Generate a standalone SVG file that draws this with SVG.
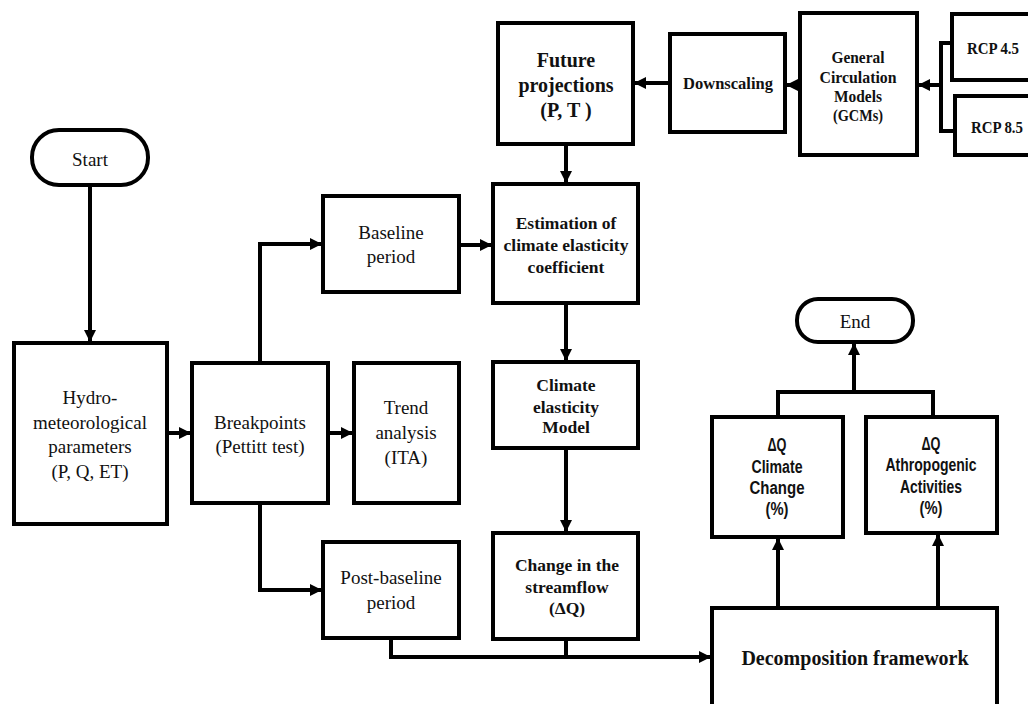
<svg xmlns="http://www.w3.org/2000/svg" width="1028" height="704" viewBox="0 0 1028 704">
<defs>
<marker id="ah" markerUnits="userSpaceOnUse" markerWidth="12" markerHeight="12" viewBox="0 0 12 12" refX="11" refY="6" orient="auto">
<path d="M0,0 L12,6 L0,12 Z" fill="#000"/>
</marker>
<style>
.b{fill:#fff;stroke:#000;stroke-width:4}
.c{fill:none;stroke:#000;stroke-width:4}
.a{marker-end:url(#ah)}
text{font-family:"Liberation Serif","DejaVu Serif",serif;fill:#111;text-anchor:middle}
.r{font-size:19px}
.bd{font-weight:bold}
.s{font-family:"Liberation Sans","DejaVu Sans",sans-serif;font-weight:bold;font-size:18px}
</style>
</defs>
<g id="connectors">
<path class="c a" d="M90,185 V341"/>
<path class="c a" d="M167,433 H190"/>
<path class="c a" d="M328,433 H352"/>
<path class="c a" d="M260,363 V244 H321"/>
<path class="c a" d="M260,503 V590 H321"/>
<path class="c a" d="M459,245 H491"/>
<path class="c a" d="M566,144 V182"/>
<path class="c a" d="M670,83 H635"/>
<path class="c a" d="M800,85 H787"/>
<path class="c" d="M952,43 H941 V131 H955"/>
<path class="c a" d="M941,85 H919"/>
<path class="c a" d="M566,303 V360"/>
<path class="c a" d="M566,448 V531"/>
<path class="c a" d="M391,638 V657 H710"/>
<path class="c" d="M566,639 V657"/>
<path class="c a" d="M778,608 V539"/>
<path class="c a" d="M938,608 V535"/>
<path class="c" d="M778,417 V392 H933 V417"/>
<path class="c a" d="M854,392 V344"/>
</g>
<g id="start"><rect class="b" x="32" y="130" width="116" height="55" rx="27"/><text class="r" x="90" y="166">Start</text></g>
<g id="hydro"><rect class="b" x="14" y="343" width="153" height="181"/>
<text class="r" x="90" y="404">Hydro-</text><text class="r" x="90" y="429">meteorological</text><text class="r" x="90" y="453">parameters</text><text class="r" x="90" y="478">(P, Q, ET)</text></g>
<g id="breakpoints"><rect class="b" x="192" y="363" width="136" height="140"/>
<text class="r" x="260" y="429">Breakpoints</text><text class="r" x="260" y="453">(Pettitt test)</text></g>
<g id="trend"><rect class="b" x="354" y="363" width="105" height="140"/>
<text class="r" x="406" y="414">Trend</text><text class="r" x="406" y="439">analysis</text><text class="r" x="406" y="464">(ITA)</text></g>
<g id="baseline"><rect class="b" x="323" y="196" width="136" height="96"/>
<text class="r" x="391" y="239">Baseline</text><text class="r" x="391" y="263">period</text></g>
<g id="postbaseline"><rect class="b" x="323" y="542" width="136" height="96"/>
<text class="r" x="391" y="584">Post-baseline</text><text class="r" x="391" y="609">period</text></g>
<g id="future"><rect class="b" x="498" y="23" width="135" height="121"/>
<text class="bd" font-size="20" x="566" y="67">Future</text><text class="bd" font-size="20" x="566" y="92">projections</text><text class="bd" font-size="20" x="566" y="117">(P, T )</text></g>
<g id="downscaling"><rect class="b" x="670" y="34" width="115" height="98"/>
<text class="bd" font-size="16.5" x="728" y="89">Downscaling</text></g>
<g id="gcm"><rect class="b" x="800" y="13" width="117" height="142"/>
<text class="bd" font-size="16" x="858" y="63" textLength="53" lengthAdjust="spacingAndGlyphs">General</text><text class="bd" font-size="16" x="858" y="83" textLength="77" lengthAdjust="spacingAndGlyphs">Circulation</text><text class="bd" font-size="16" x="858" y="102" textLength="48" lengthAdjust="spacingAndGlyphs">Models</text><text class="bd" font-size="16" x="858" y="121" textLength="50" lengthAdjust="spacingAndGlyphs">(GCMs)</text></g>
<g id="rcp45"><rect class="b" x="952" y="14" width="90" height="66"/><text class="bd" font-size="16" x="993" y="54" textLength="52" lengthAdjust="spacingAndGlyphs">RCP 4.5</text></g>
<g id="rcp85"><rect class="b" x="955" y="96" width="90" height="59"/><text class="bd" font-size="16" x="997" y="133" textLength="52" lengthAdjust="spacingAndGlyphs">RCP 8.5</text></g>
<g id="estimation"><rect class="b" x="493" y="184" width="145" height="119"/>
<text class="bd" font-size="17.5" x="566" y="229">Estimation of</text><text class="bd" font-size="17.5" x="566" y="251">climate elasticity</text><text class="bd" font-size="17.5" x="566" y="273">coefficient</text></g>
<g id="model"><rect class="b" x="493" y="362" width="145" height="86"/>
<text class="bd" font-size="17.5" x="566" y="391">Climate</text><text class="bd" font-size="17.5" x="566" y="413">elasticity</text><text class="bd" font-size="17.5" x="566" y="433">Model</text></g>
<g id="change"><rect class="b" x="493" y="533" width="145" height="106"/>
<text class="bd" font-size="17.5" x="567" y="571">Change in the</text><text class="bd" font-size="17.5" x="567" y="593">streamflow</text><text class="bd" font-size="17.5" x="567" y="614">(ΔQ)</text></g>
<g id="decomposition"><rect class="b" x="712" y="608" width="285" height="101"/>
<text class="bd" font-size="20" x="855" y="665">Decomposition framework</text></g>
<g id="dq-climate"><rect class="b" x="712" y="417" width="131" height="120"/>
<text class="s" x="777" y="451" textLength="19" lengthAdjust="spacingAndGlyphs">ΔQ</text><text class="s" x="777" y="473" textLength="51" lengthAdjust="spacingAndGlyphs">Climate</text><text class="s" x="777" y="494" textLength="55" lengthAdjust="spacingAndGlyphs">Change</text><text class="s" x="777" y="515" textLength="23" lengthAdjust="spacingAndGlyphs">(%)</text></g>
<g id="dq-anthro"><rect class="b" x="866" y="417" width="131" height="116"/>
<text class="s" x="931" y="450" textLength="19" lengthAdjust="spacingAndGlyphs">ΔQ</text><text class="s" x="931" y="471" textLength="91" lengthAdjust="spacingAndGlyphs">Athropogenic</text><text class="s" x="931" y="493" textLength="62" lengthAdjust="spacingAndGlyphs">Activities</text><text class="s" x="931" y="514" textLength="23" lengthAdjust="spacingAndGlyphs">(%)</text></g>
<g id="end"><rect class="b" x="797" y="299" width="116" height="43" rx="21"/><text class="r" x="855" y="328">End</text></g>
</svg>
